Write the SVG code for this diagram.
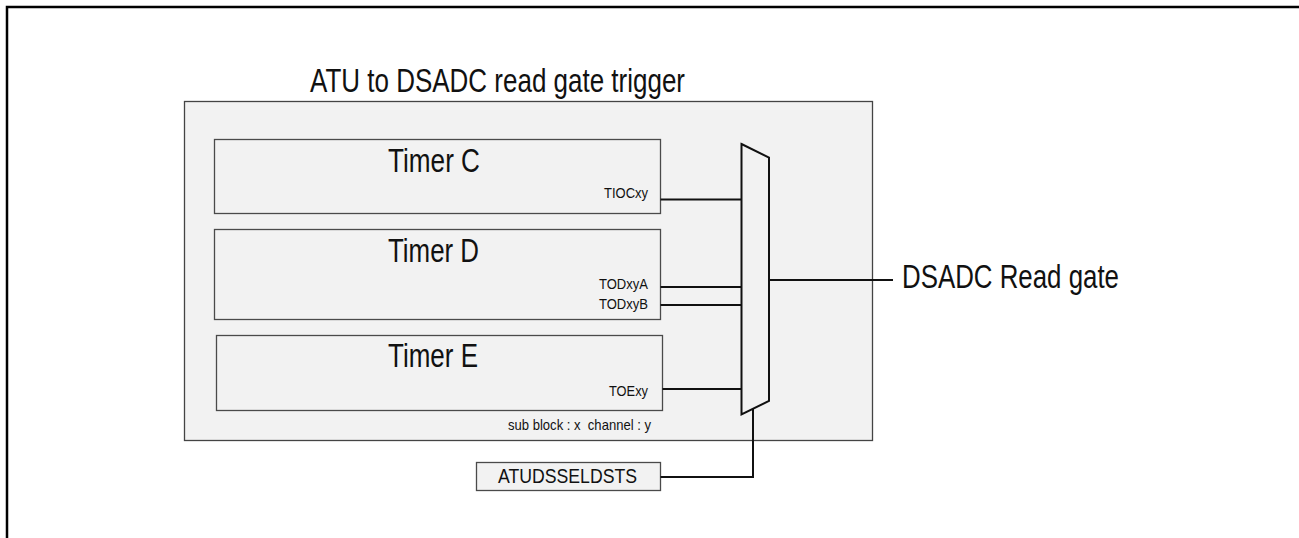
<svg xmlns="http://www.w3.org/2000/svg" width="1299" height="538" viewBox="0 0 1299 538">
<style>
  .t { font-family: "Liberation Sans", Arial, sans-serif; fill: #111; }
  .big { font-size: 33px; }
  .sm { font-size: 14.5px; }
  .box { fill: #f2f2f2; stroke: #4a4a4a; stroke-width: 1.3; }
  .wire { fill: none; stroke: #111; stroke-width: 2; }
</style>
<rect x="0" y="0" width="1299" height="538" fill="#ffffff"/>
<rect x="7" y="7" width="1310" height="550" fill="none" stroke="#000" stroke-width="2.5"/>
<text class="t big" x="310" y="92" textLength="375" lengthAdjust="spacingAndGlyphs">ATU to DSADC read gate trigger</text>
<g id="atu">
  <rect x="184.5" y="101.5" width="688" height="339" fill="#f2f2f2" stroke="#444" stroke-width="1.3"/>
  <text class="t sm" x="508" y="430" textLength="143" lengthAdjust="spacingAndGlyphs" xml:space="preserve">sub block : x  channel : y</text>
</g>
<g id="timerC">
  <rect class="box" x="214.5" y="139.5" width="446" height="74"/>
  <text class="t big" x="388" y="172" textLength="92" lengthAdjust="spacingAndGlyphs">Timer C</text>
  <text class="t sm" x="604" y="198" textLength="44" lengthAdjust="spacingAndGlyphs">TIOCxy</text>
</g>
<g id="timerD">
  <rect class="box" x="214.5" y="229.5" width="446" height="90"/>
  <text class="t big" x="388" y="262" textLength="91" lengthAdjust="spacingAndGlyphs">Timer D</text>
  <text class="t sm" x="599" y="289" textLength="49" lengthAdjust="spacingAndGlyphs">TODxyA</text>
  <text class="t sm" x="599" y="309" textLength="49" lengthAdjust="spacingAndGlyphs">TODxyB</text>
</g>
<g id="timerE">
  <rect class="box" x="216.5" y="335.5" width="446" height="75"/>
  <text class="t big" x="388" y="367" textLength="90" lengthAdjust="spacingAndGlyphs">Timer E</text>
  <text class="t sm" x="609" y="396" textLength="39" lengthAdjust="spacingAndGlyphs">TOExy</text>
</g>
<g id="atudsseldsts">
  <rect class="box" x="476.5" y="462.5" width="184" height="28"/>
  <text class="t" font-size="20.5" x="498" y="483" textLength="139" lengthAdjust="spacingAndGlyphs">ATUDSSELDSTS</text>
</g>
<g id="connectors">
  <path class="wire" d="M660.5 199.5 H741"/>
  <path class="wire" d="M660.5 287 H741"/>
  <path class="wire" d="M660.5 305 H741"/>
  <path class="wire" d="M662.5 389 H741"/>
  <path class="wire" d="M660.5 477 H753 V408.5"/>
  <path class="wire" d="M769 280 H893"/>
</g>
<g id="mux">
  <polygon points="741.5,144 769,157.5 769,401 741.5,414.5" fill="#f2f2f2" stroke="#111" stroke-width="2" stroke-linejoin="miter"/>
</g>
<g id="output">
  <text class="t big" x="902" y="288" textLength="217" lengthAdjust="spacingAndGlyphs">DSADC Read gate</text>
</g>
</svg>
